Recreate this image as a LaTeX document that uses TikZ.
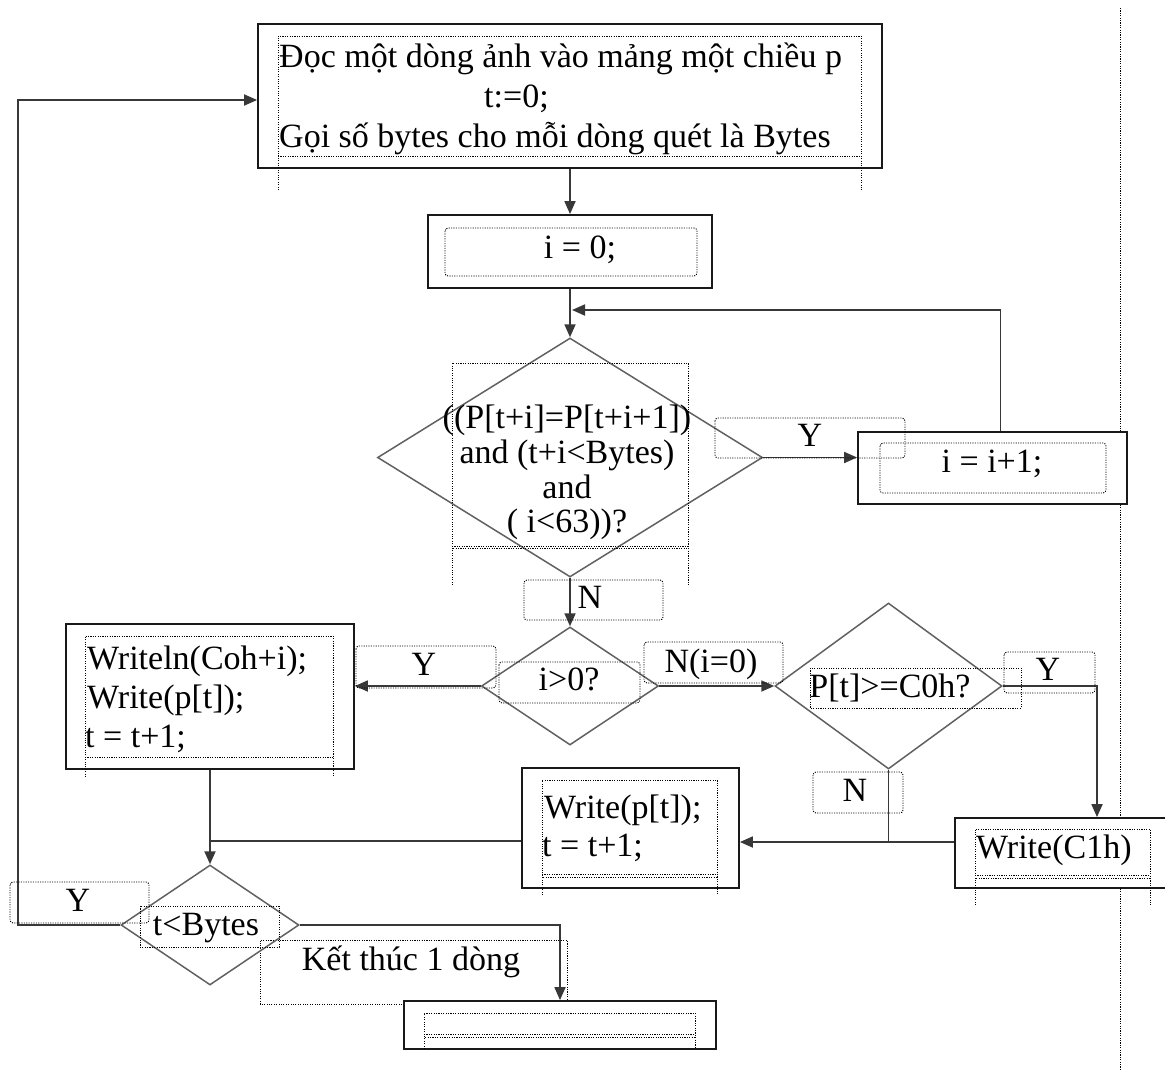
\documentclass[tikz,border=0pt]{standalone}
\usepackage{fontspec}
\setmainfont{Liberation Serif}
\usetikzlibrary{shapes.geometric,arrows.meta}
\newcommand\flowfont{\fontsize{34}{40}\selectfont}

\begin{document}
\begin{tikzpicture}[x=1pt,y=-1pt,
  proc/.style={draw=black!90, line width=1.8pt, fill=white, inner sep=0pt, rectangle},
  dec/.style={draw=black!62, line width=1.5pt, diamond, inner sep=0pt},
  conn/.style={draw=black!78, line width=1.8pt},
  arr/.style={conn, -{Triangle[length=13pt,width=11pt]}},
  frame/.style={draw=black, line width=0.9pt, dash pattern=on 1.1pt off 1.3pt},
  rframe/.style={frame, rounded corners=3pt},
  lbl/.style={inner sep=0pt, font=\flowfont}]

\useasboundingbox (0,0) rectangle (1165,1076);
\clip (0,0) rectangle (1165,1076);
\fill[white] (0,0) rectangle (1165,1076);

% page margin guide
\draw[frame] (1120,8) -- (1120,1070);

% frame of the end-of-line caption (lies under the last box)
\draw[frame] (260,1004) -- (260,940) -- (567,940) -- (567,1004) -- cycle;

% ---------- process boxes ----------
\node[proc, minimum width=624pt, minimum height=144pt] (read) at (570,96) {};
\node[proc, minimum width=284pt, minimum height=73pt]  (init) at (570,251.5) {};
\node[proc, minimum width=269pt, minimum height=72pt]  (inc)  at (992.5,468) {};
\node[proc, minimum width=288pt, minimum height=145pt] (wln)  at (210,696.5) {};
\node[proc, minimum width=217pt, minimum height=120pt] (wp)   at (630.5,828) {};
\node[proc, minimum width=284pt, minimum height=70pt]  (c1h)  at (1097,853) {};
\node[proc, minimum width=312pt, minimum height=48pt]  (fin)  at (560,1025) {};

% ---------- decisions ----------
\node[dec, minimum width=385pt, minimum height=239pt] (cond) at (570,457.5) {};
\node[dec, minimum width=177pt, minimum height=118pt] (pos)  at (570,686) {};
\node[dec, minimum width=227pt, minimum height=166pt] (ge)   at (888.5,686) {};
\node[dec, minimum width=178pt, minimum height=120pt] (tb)   at (210,925) {};

% ---------- junction points ----------
\coordinate (loopin) at (572,310);
\coordinate (jn) at (888.5,842);
\coordinate (jw) at (210,841);
\coordinate (back) at (18,100);

% ---------- connectors ----------
\draw[arr] (read.south) -- (init.north);
\draw[arr] (init.south) -- (cond.north);
\draw[arr] ([xshift=8pt]inc.north) |- (loopin);
\draw[arr] (cond.east) -- (cond.east -| inc.west);
\draw[arr] (cond.south) -- (pos.north);
\draw[arr] (pos.west) -- (pos.west -| wln.east);
\draw[arr] (pos.east) -- (ge.west);
\draw[arr] (ge.east) -| (c1h.north);
\draw[conn] (ge.south) -- (jn);
\draw[arr] (c1h.west |- jn) -- (wp.east |- jn);
\draw[conn] (wln.south) -- (jw);
\draw[conn] (wp.west |- jw) -- (jw);
\draw[arr] (jw) -- (tb.north);
\draw[arr] (tb.west) -| (back) -- (back -| read.west);
\draw[arr] (tb.east) -| (fin.north);

% ---------- text frames ----------
\draw[frame] (278,190) -- (278,36) -- (861,36) -- (861,190);
\draw[frame] (278,156) -- (861,156);
\draw[rframe] (445,228) rectangle (697,276);
\draw[frame] (452,585) -- (452,363) -- (688,363) -- (688,585);
\draw[frame] (452,546) -- (688,546);
\draw[frame, dash phase=1.2pt] (452,548.5) -- (688,548.5);
\draw[rframe] (715,418) rectangle (905,458);
\draw[rframe] (880,443) rectangle (1106,493);
\draw[rframe] (524,580) rectangle (663,620);
\draw[rframe] (499,662) rectangle (640,703);
\draw[rframe] (356,646) rectangle (496,688);
\draw[frame] (85,777) -- (85,636) -- (333,636) -- (333,777);
\draw[frame] (85,757) -- (333,757);
\draw[rframe] (644,642) rectangle (783,683);
\draw[frame] (810,668) rectangle (1021,708);
\draw[rframe] (1004,652) rectangle (1095,693);
\draw[rframe] (813,772) rectangle (903,813);
\draw[frame] (542,895) -- (542,780) -- (717,780) -- (717,895);
\draw[frame] (542,874.5) -- (717,874.5);
\draw[frame, dash phase=1.2pt] (542,877) -- (717,877);
\draw[frame] (975,905) -- (975,829) -- (1150,829) -- (1150,905);
\draw[frame] (975,875.5) -- (1150,875.5);
\draw[frame, dash phase=1.2pt] (975,878) -- (1150,878);
\draw[rframe] (10,882) rectangle (149,923);
\draw[frame] (140,906) rectangle (279,947);
\draw[frame] (424,1049) -- (424,1013) -- (695,1013) -- (695,1049);
\draw[frame] (424,1034.5) -- (695,1034.5);
\draw[frame, dash phase=1.2pt] (424,1037) -- (695,1037);

% ---------- texts ----------
\node[lbl, anchor=base west] (t1a) at (279,67) {Đọc một dòng ảnh vào mảng một chiều p};
\node[lbl, anchor=base west] (t1b) at (484,107) {t:=0;};
\node[lbl, anchor=base west] (t1c) at (279,147) {Gọi số bytes cho mỗi dòng quét là Bytes};
\node[lbl, anchor=base] (t2) at (580,258) {i = 0;};
\node[lbl, anchor=base] (t3a) at (567,428) {((P[t+i]=P[t+i+1])};
\node[lbl, anchor=base] (t3b) at (567,463) {and (t+i<Bytes)};
\node[lbl, anchor=base] (t3c) at (567,498) {and};
\node[lbl, anchor=base] (t3d) at (567,532) {( i<63))?};
\node[lbl, anchor=base] (ly1) at (810,446) {Y};
\node[lbl, anchor=base] (t4) at (992,472) {i = i+1;};
\node[lbl, anchor=base] (ln1) at (590,608) {N};
\node[lbl, anchor=base] (t5) at (569,690) {i>0?};
\node[lbl, anchor=base] (ly2) at (424,675) {Y};
\node[lbl, anchor=base west] (t6a) at (87,669) {Writeln(Coh+i);};
\node[lbl, anchor=base west] (t6b) at (87,708) {Write(p[t]);};
\node[lbl, anchor=base west] (t6c) at (85,747) {t = t+1;};
\node[lbl, anchor=base] (ln2) at (711,672) {N(i=0)};
\node[lbl, anchor=base] (t7) at (890,697) {P[t]>=C0h?};
\node[lbl, anchor=base] (ly3) at (1048,680) {Y};
\node[lbl, anchor=base] (ln3) at (855,801) {N};
\node[lbl, anchor=base west] (t8a) at (544,818) {Write(p[t]);};
\node[lbl, anchor=base west] (t8b) at (542,856) {t = t+1;};
\node[lbl, anchor=base west] (t9) at (976,858) {Write(C1h)};
\node[lbl, anchor=base] (ly4) at (78,911) {Y};
\node[lbl, anchor=base] (t10) at (206,935) {t<Bytes};
\node[lbl, anchor=base] (t11) at (411,970) {Kết thúc 1 dòng};
\end{tikzpicture}
\end{document}
